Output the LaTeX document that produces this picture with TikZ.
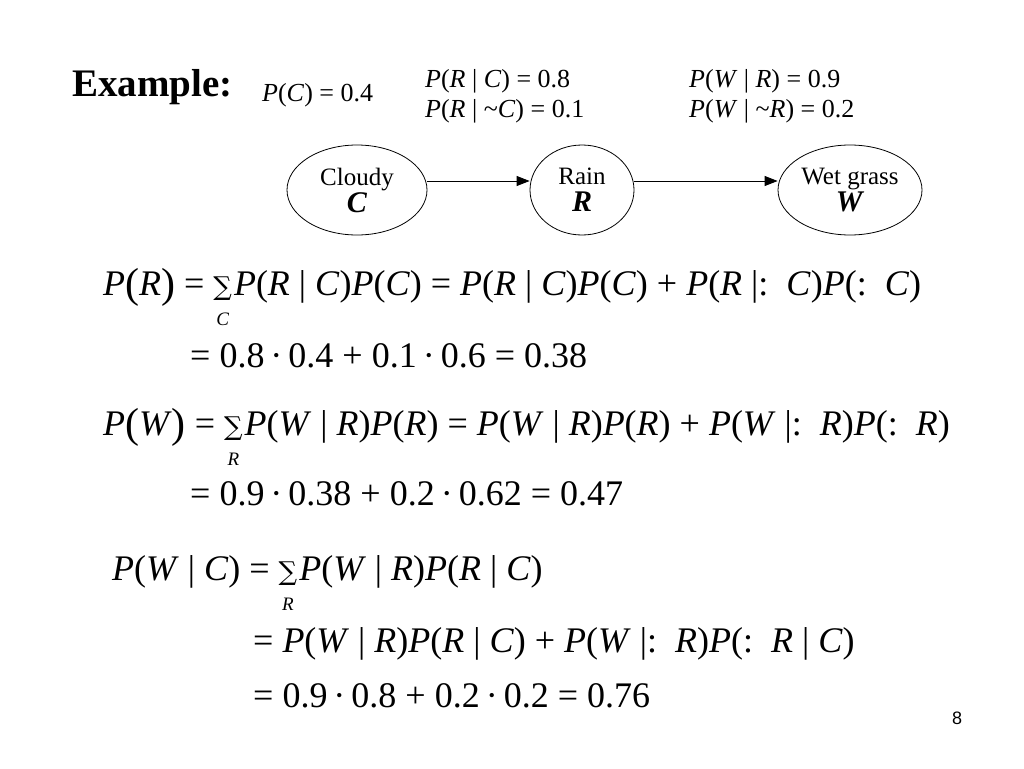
\documentclass[tikz,border=0pt]{standalone}
\usepackage{fontspec}
\setmainfont{Liberation Serif}
\newfontfamily\symf{DejaVu Serif}
\usetikzlibrary{arrows.meta,shapes.geometric}
\newcommand{\I}[1]{\textit{#1}}
\newcommand{\Sm}[1]{\,\begin{tabular}[t]{@{}c@{}}{\symf\fontsize{26}{26}\selectfont ∑}\\[-6pt]{\fontsize{19}{19}\selectfont\I{#1}}\end{tabular}\,}
\newcommand{\Lp}{\raisebox{-2pt}{\fontsize{42}{42}\selectfont(}}
\newcommand{\Rp}{\raisebox{-2pt}{\fontsize{42}{42}\selectfont)}}
\newcommand{\E}{\ =\ }
\newcommand{\Pl}{\ +\ }
\newcommand{\D}{\,·\,}
\begin{document}
\begin{tikzpicture}[x=1pt,y=-1pt,
  eq/.style={anchor=base west,inner sep=0,font=\fontsize{36}{36}\selectfont},
  lbl/.style={anchor=base west,inner sep=0,font=\fontsize{26}{26}\selectfont},
  ell/.style={draw,ellipse,inner sep=0,line width=0.8pt,minimum height=90pt,font=\fontsize{25}{27}\selectfont,align=center},
  arr/.style={-{Triangle[length=13pt,width=10pt]},line width=0.8pt}]
\useasboundingbox (0,0) rectangle (1024,768);
\node[anchor=base west,inner sep=0,font=\fontsize{39}{39}\selectfont\bfseries] (ex) at (72,96) {Example:};
\node[lbl] (pc) at (262,101) {\I{P}(\I{C}) = 0.4};
\node[lbl] (prc) at (425,87) {\I{P}(\I{R} | \I{C}) = 0.8};
\node[lbl] (prnc) at (425,117) {\I{P}(\I{R} | \textasciitilde\I{C}) = 0.1};
\node[lbl] (pwr) at (689,87) {\I{P}(\I{W} | \I{R}) = 0.9};
\node[lbl] (pwnr) at (689,117) {\I{P}(\I{W} | \textasciitilde\I{R}) = 0.2};
\node[ell,minimum width=140pt] (c) at (357,190) {Cloudy\\[0pt]{\fontsize{30}{30}\selectfont\textbf{\textit{C}}}};
\node[ell,minimum width=104pt] (r) at (582,190) {Rain\\[0pt]{\fontsize{30}{30}\selectfont\textbf{\textit{R}}}};
\node[ell,minimum width=144pt] (w) at (850,190) {Wet grass\\[0pt]{\fontsize{30}{30}\selectfont\textbf{\textit{W}}}};
\draw[arr] (c.east) ++(0,-9) coordinate (c1) -- (r.west |- c1);
\draw[arr] (r.east) ++(0,-9) coordinate (r1) -- (w.west |- r1);
\node[eq] (l1) at (103,295) {\I{P}\Lp\I{R}\Rp\E\hspace{-6pt}\Sm{C}\hspace{-4pt}\I{P}(\I{R} | \I{C})\I{P}(\I{C})\E\I{P}(\I{R} | \I{C})\I{P}(\I{C})\Pl\I{P}(\I{R} |:\ \ \I{C})\I{P}(:\ \ \I{C})};
\node[eq] (l2) at (190,367) {= 0.8\D0.4 + 0.1\D0.6 = 0.38};
\node[eq] (l3) at (103,435) {\I{P}\Lp\I{W}\Rp\E\hspace{-6pt}\Sm{R}\hspace{-4pt}\I{P}(\I{W} | \I{R})\I{P}(\I{R})\E\I{P}(\I{W} | \I{R})\I{P}(\I{R})\Pl\I{P}(\I{W} |:\ \ \I{R})\I{P}(:\ \ \I{R})};
\node[eq] (l4) at (190,505) {= 0.9\D0.38 + 0.2\D0.62 = 0.47};
\node[eq] (l5) at (112,580) {\I{P}(\I{W} | \I{C})\E\hspace{-6pt}\Sm{R}\hspace{-4pt}\I{P}(\I{W} | \I{R})\I{P}(\I{R} | \I{C})};
\node[eq] (l6) at (253,652) {= \I{P}(\I{W} | \I{R})\I{P}(\I{R} | \I{C})\Pl\I{P}(\I{W} |:\ \ \I{R})\I{P}(:\ \ \I{R} | \I{C})};
\node[eq] (l7) at (253,707) {= 0.9\D0.8 + 0.2\D0.2 = 0.76};
\node[anchor=base,inner sep=0,font=\fontsize{18}{18}\selectfont\fontspec{Liberation Sans}] (pg) at (957,724) {8};
\end{tikzpicture}
\end{document}
